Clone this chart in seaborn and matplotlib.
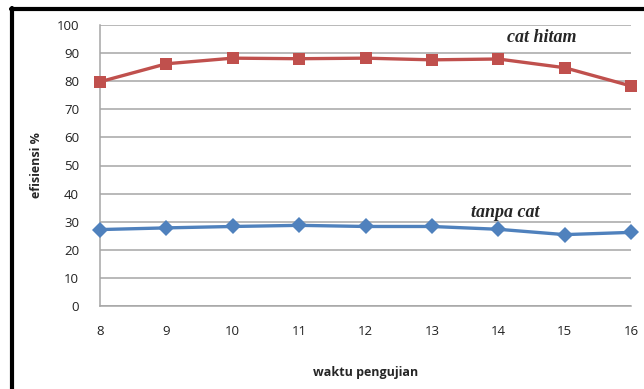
"""Efisiensi vs waktu pengujian, cat hitam vs tanpa cat."""

import matplotlib
matplotlib.use('Agg')
import matplotlib.pyplot as plt
import pandas as pd
import seaborn as sns

waktu = [8, 9, 10, 11, 12, 13, 14, 15, 16]
cat_hitam = [79.8, 86.2, 88.2, 88.0, 88.2, 87.6, 87.9, 84.8, 78.3]
tanpa_cat = [27.2, 27.8, 28.3, 28.7, 28.3, 28.3, 27.3, 25.4, 26.2]
y_ticks = list(range(0, 101, 10))

df = pd.DataFrame({'waktu': waktu, 'cat hitam': cat_hitam, 'tanpa cat': tanpa_cat})

sns.set_style('white')
plt.rcParams['font.family'] = ['Open Sans', 'DejaVu Sans']

fig = plt.figure(figsize=(6.44, 3.89), dpi=100)
ax = fig.add_axes([100/644, 1 - 306/389, 531/644, 281/389])

sns.lineplot(data=df, x='waktu', y='cat hitam', ax=ax, color='#C0504D',
             marker='s', markersize=9, markeredgewidth=0, linewidth=2.4,
             clip_on=False, zorder=5)
sns.lineplot(data=df, x='waktu', y='tanpa cat', ax=ax, color='#4F81BD',
             marker='D', markersize=8, markeredgewidth=0, linewidth=2.4,
             clip_on=False, zorder=5)

ax.set_xlim(8, 16)
ax.set_ylim(0, 100)
ax.set_xticks(waktu)
ax.set_yticks(y_ticks)
ax.yaxis.grid(True, color='#A6A6A6', linewidth=1.1)
ax.tick_params(axis='both', length=0, labelsize=9.5, colors='#222222')
ax.tick_params(axis='x', pad=14)
ax.tick_params(axis='y', pad=15)
for side in ['top', 'right']:
    ax.spines[side].set_visible(False)
for side in ['left', 'bottom']:
    ax.spines[side].set_color('#A6A6A6')
    ax.spines[side].set_linewidth(1.1)

ax.set_xlabel('waktu pengujian', fontsize=9, fontweight='bold', labelpad=20)
ax.set_ylabel('efisiensi %', fontsize=9, fontweight='bold', labelpad=10)

ax.text(14.65, 95.5, 'cat hitam', fontsize=13, fontweight='bold', style='italic',
        family=['Liberation Serif', 'DejaVu Serif'], ha='center', va='center')
ax.text(14.1, 33.4, 'tanpa cat', fontsize=13, fontweight='bold', style='italic',
        family=['Liberation Serif', 'DejaVu Serif'], ha='center', va='center')

# black frame on the left and top
fig.add_artist(plt.Line2D([12.5/644, 12.5/644], [0, 1 - 8/389], color='black',
                          linewidth=3, transform=fig.transFigure))
fig.add_artist(plt.Line2D([11/644, 1], [1 - 8.5/389, 1 - 8.5/389], color='black',
                          linewidth=3, transform=fig.transFigure))

fig.savefig('out.png', dpi=100)
